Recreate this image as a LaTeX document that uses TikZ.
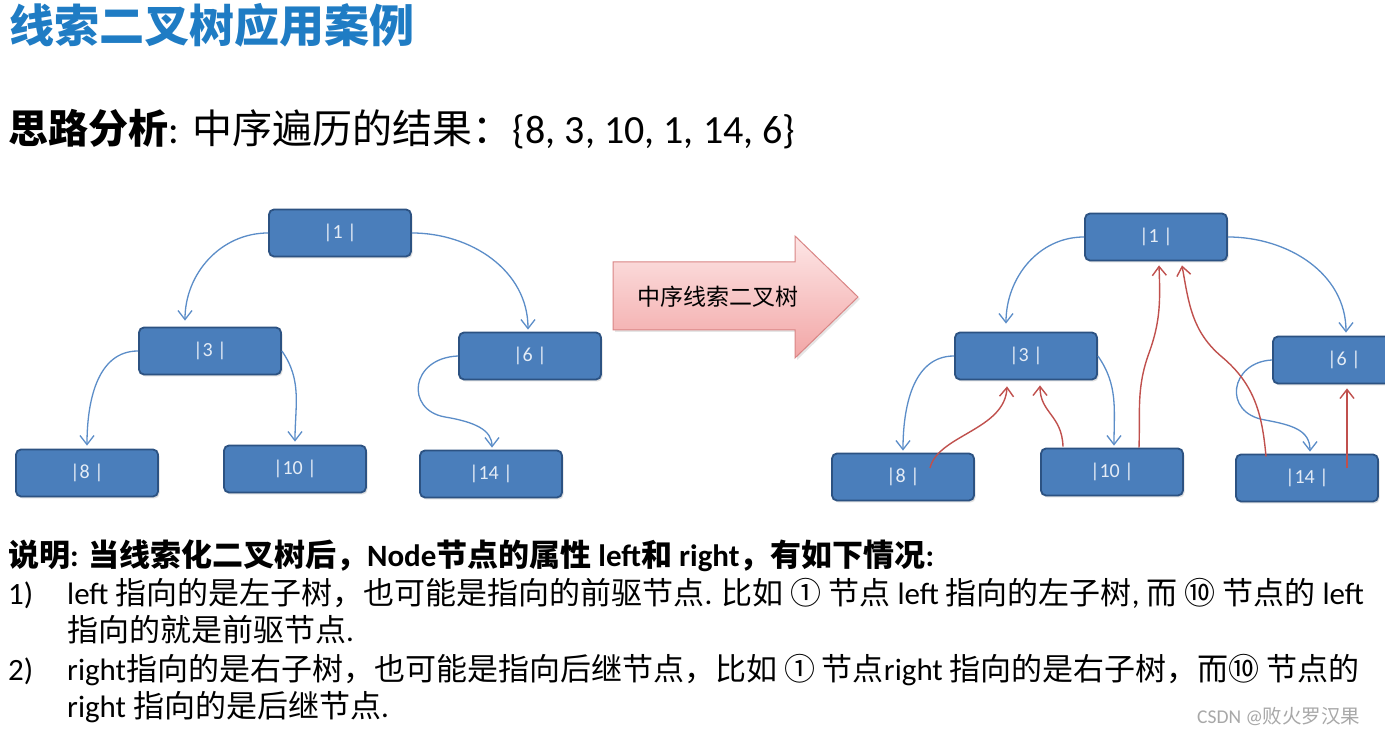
\documentclass[tikz,border=0pt]{standalone}
\usepackage{fontspec}
\setmainfont{Carlito}
\newfontfamily\cjk{Noto Sans CJK SC}
\usetikzlibrary{arrows.meta,calc,shadows}
\newcommand\zh[1]{{\cjk #1}}
\definecolor{titleblue}{HTML}{1F7CC4}
\definecolor{boxfill}{HTML}{4A7EBB}
\definecolor{boxdraw}{HTML}{2C5282}
\definecolor{boxtext}{HTML}{E4ECF6}
\definecolor{linkblue}{HTML}{5B8DC8}
\definecolor{threadred}{HTML}{C0504D}
\definecolor{arrowtop}{HTML}{FDE6E6}
\definecolor{arrowbot}{HTML}{F2A6A6}
\definecolor{arrowdraw}{HTML}{D98585}
\definecolor{wmark}{HTML}{A8A8A8}
\begin{document}
\begin{tikzpicture}[x=1pt,y=1pt,
  tbox/.style={draw=boxdraw, line width=1.8pt, fill=boxfill, rounded corners=5pt,
    minimum width=142pt, minimum height=47pt, inner sep=0pt, text=boxtext,
    font=\fontsize{20}{24}\selectfont,
    drop shadow={opacity=0.25, shadow xshift=1.5pt, shadow yshift=-2pt}},
  link/.style={draw=linkblue, line width=1.3pt,
    -{Straight Barb[length=9pt,width=14pt,line width=1.3pt]}},
  thread/.style={draw=threadred, line width=1.4pt,
    -{Straight Barb[length=9pt,width=14pt,line width=1.4pt]}},
  txt/.style={anchor=base west, inner sep=0pt},
  body/.style={txt, font=\fontsize{31}{36}\selectfont}]
\useasboundingbox (0,0) rectangle (1385,735);
\fill[white] (0,0) rectangle (1385,735);

% title and heading
\node[txt, text=titleblue, font=\fontsize{45}{50}\selectfont\bfseries] (title) at (9,692) {\zh{线索二叉树应用案例}};
\node[txt, font=\fontsize{40}{46}\selectfont] (head) at (8,591)
  {\textbf{\zh{思路分析}}:\hspace{14pt}\zh{中序遍历的结果：}\{8, 3, 10, 1, 14, 6\}};

% left tree
\node[tbox] (L1) at (340,502) {|1 |};
\node[tbox] (L3) at (210,384) {|3 |};
\node[tbox] (L6) at (530,379) {|6 |};
\node[tbox] (L8) at (87,262) {|8 |};
\node[tbox] (L10) at (295,266) {|10 |};
\node[tbox] (L14) at (491,261) {|14 |};

\draw[link] (L1.west) to[out=180,in=90] ([xshift=-25pt,yshift=6pt]L3.north);
\draw[link] (L1.east) to[out=0,in=90] ([xshift=-2pt,yshift=2pt]L6.north);
\draw[link] (L3.west) to[out=180,in=90] ([yshift=3pt]L8.north);
\draw[link] (L3.east) to[out=-55,in=90] ([yshift=3pt]L10.north);
\coordinate (L6m) at (445,318);
\draw[link] (L6.west) .. controls (410,377) and (405,325) .. (L6m)
  .. controls (475,313) and (492,305) .. ([xshift=1pt,yshift=2pt]L14.north);

% middle arrow
\path[draw=arrowdraw, line width=1pt, top color=arrowtop, bottom color=arrowbot,
  drop shadow={opacity=0.2, shadow xshift=2pt, shadow yshift=-2pt}]
  (613,473) -- (795,473) -- (795,499) -- (858,438) -- (795,377) -- (795,405) -- (613,405) -- cycle;
\node[inner sep=0pt, font=\fontsize{23}{28}\selectfont] (mid) at (718,438) {\zh{中序线索二叉树}};

% right tree
\node[tbox] (R1) at (1156,498) {|1 |};
\node[tbox] (R3) at (1026,379) {|3 |};
\node[tbox] (R6) at (1344,375) {|6 |};
\node[tbox] (R8) at (903,258) {|8 |};
\node[tbox] (R10) at (1112,263) {|10 |};
\node[tbox] (R14) at (1307,257) {|14 |};

\draw[link] (R1.west) to[out=180,in=90] ([xshift=-20pt,yshift=8pt]R3.north);
\draw[link] (R1.east) to[out=0,in=90] ([xshift=2pt,yshift=3pt]R6.north);
\draw[link] (R3.west) to[out=180,in=90] ([yshift=2pt]R8.north);
\draw[link] (R3.east) to[out=-55,in=90] ([xshift=2pt,yshift=2pt]R10.north);
\coordinate (R6m) at (1265,315);
\draw[link] (R6.west) .. controls (1230,373) and (1222,322) .. (R6m)
  .. controls (1292,310) and (1310,305) .. ([xshift=3pt,yshift=2pt]R14.north);

% threads
\draw[thread] ([xshift=27pt,yshift=9pt]R8.center) .. controls (938,300) and (1005,305) .. ([xshift=-19pt,yshift=-6pt]R3.south);
\draw[thread] ([xshift=-49pt,yshift=1pt]R10.north) .. controls (1062,320) and (1040,322) .. ([xshift=14pt,yshift=-5pt]R3.south);
\coordinate (R10m) at (1149,382);
\draw[thread] ([xshift=27pt,yshift=0pt]R10.north) to[out=88,in=-110] (R10m) to[out=70,in=-88] ([xshift=3pt,yshift=-4pt]R1.south);
\coordinate (R14m) at (1222,378);
\draw[thread] ([xshift=-41pt,yshift=-3pt]R14.north) to[out=95,in=-40] (R14m) to[out=140,in=-80] ([xshift=26pt,yshift=-4pt]R1.south);
\draw[thread] ([xshift=40pt,yshift=10pt]R14.center) -- ([xshift=3pt,yshift=-4pt]R6.south);

% explanation
\node[body, font=\fontsize{31}{36}\selectfont\bfseries] (l0) at (8,168)
  {\zh{说明}: \zh{当线索化二叉树后，}Node\zh{节点的属性} left\zh{和} right\zh{，有如下情况}:};
\node[body] (n1) at (8,130) {1)};
\node[body] (l1) at (67,130)
  {left \zh{指向的是左子树，也可能是指向的前驱节点}. \zh{比如 ① 节点} left \zh{指向的左子树}, \zh{而 ⑩ 节点的} left};
\node[body] (l2) at (67,93) {\zh{指向的就是前驱节点}.};
\node[body] (n2) at (8,54) {2)};
\node[body] (l3) at (67,54)
  {right\zh{指向的是右子树，也可能是指向后继节点，比如 ① 节点}right \zh{指向的是右子树，而⑩ 节点的}};
\node[body] (l4) at (67,17) {right \zh{指向的是后继节点}.};

\node[txt, text=wmark, font=\fontsize{19.5}{22}\selectfont] (wm) at (1197,11) {CSDN @\zh{败火罗汉果}};
\end{tikzpicture}
\end{document}
